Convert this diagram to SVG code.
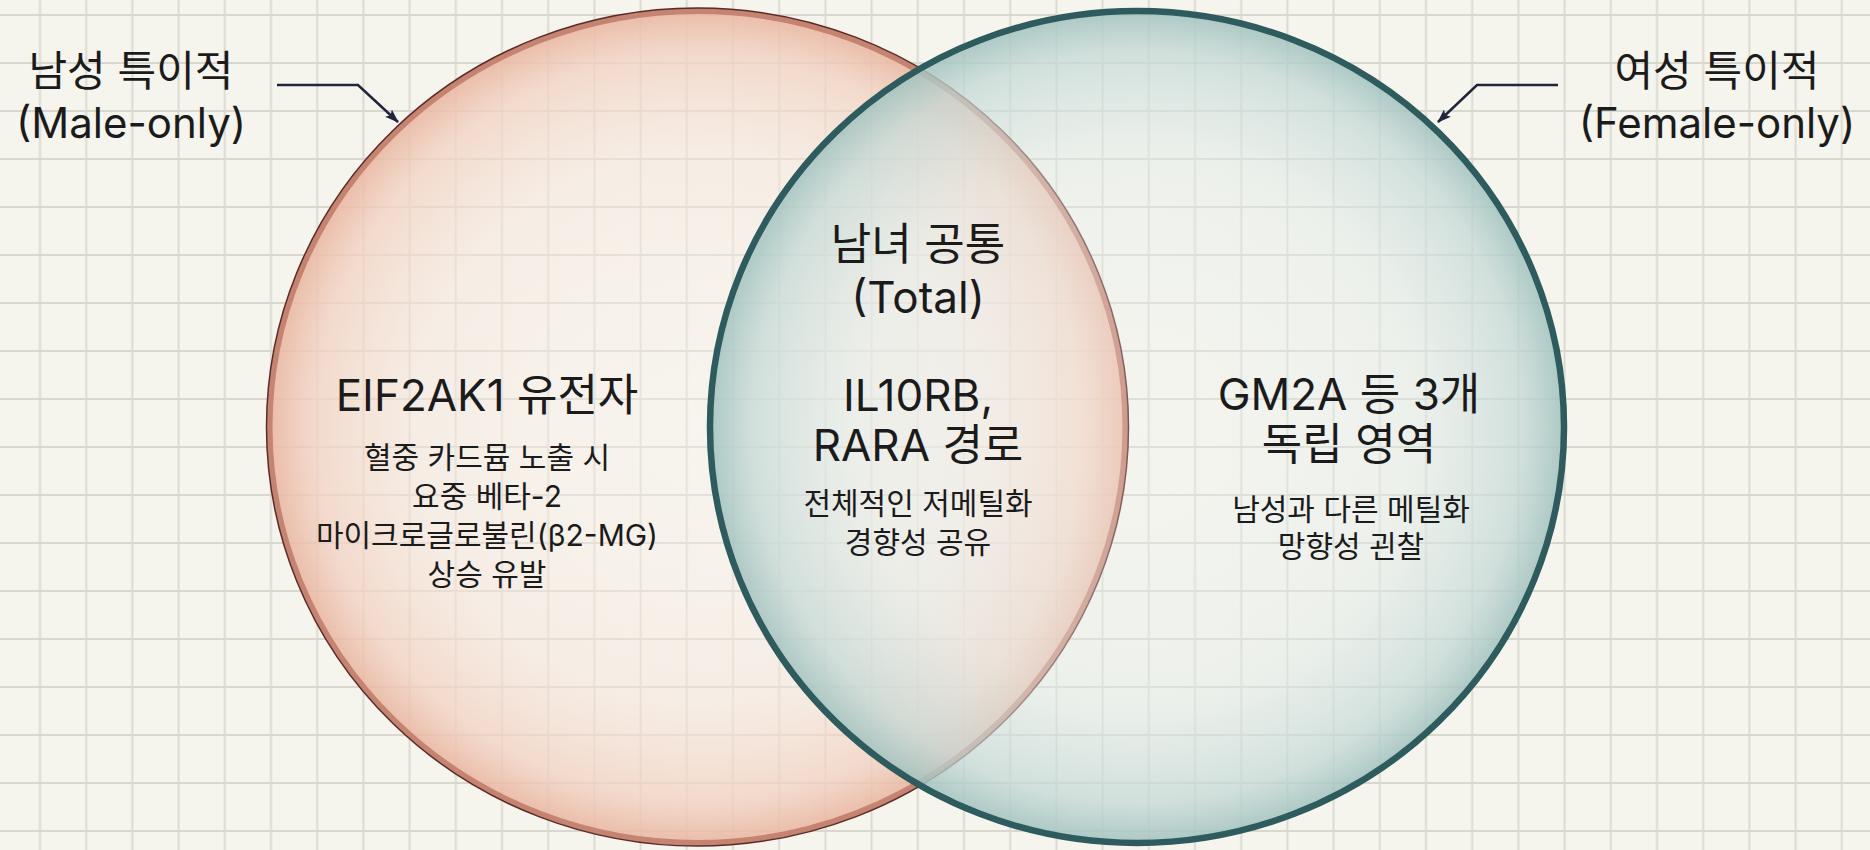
<svg xmlns="http://www.w3.org/2000/svg" width="1870" height="850" viewBox="0 0 1870 850">
<style>
  .lbl { font-family: Inter, "Noto Sans", "Noto Sans CJK KR", sans-serif; fill: #1b1b1b; text-anchor: middle; }
  .big { font-size: 42px; }
  .head { font-size: 44px; }
  .sub { font-size: 30px; }
  .arrow { fill: none; stroke: #20243d; stroke-width: 2.5; marker-end: url(#ah); }
</style>
<defs>
  <pattern id="grid" x="16.9" y="-9" width="46.2" height="48" patternUnits="userSpaceOnUse">
    <path d="M23.1 0 V48 M0 24 H46.2" stroke="#d8d8cf" stroke-width="1.8" fill="none"/>
  </pattern>
  <radialGradient id="gMale" cx="0.5" cy="0.5" r="0.5">
    <stop offset="0" stop-color="#fbf6f0" stop-opacity="0.3"/>
    <stop offset="0.65" stop-color="#f7e7dd" stop-opacity="0.5"/>
    <stop offset="0.9" stop-color="#f2d0c0" stop-opacity="0.75"/>
    <stop offset="1" stop-color="#e9b6a1" stop-opacity="0.9"/>
  </radialGradient>
  <radialGradient id="gFemale" cx="0.5" cy="0.5" r="0.5">
    <stop offset="0" stop-color="#f3f6f3" stop-opacity="0.2"/>
    <stop offset="0.65" stop-color="#e2ecea" stop-opacity="0.45"/>
    <stop offset="0.9" stop-color="#c3d8d5" stop-opacity="0.72"/>
    <stop offset="1" stop-color="#a2c2bf" stop-opacity="0.88"/>
  </radialGradient>
  <marker id="ah" viewBox="0 0 14 10" refX="13" refY="5" markerWidth="14" markerHeight="10" markerUnits="userSpaceOnUse" orient="auto">
    <path d="M0 0 L14 5 L0 10 L3 5 Z" fill="#20243d"/>
  </marker>
</defs>
<rect width="1870" height="850" fill="#f5f4ed"/>
<rect width="1870" height="850" fill="url(#grid)"/>

<g id="male-set">
  <ellipse cx="697.5" cy="427" rx="428" ry="416" fill="url(#gMale)" stroke="#c58371" stroke-width="6"/>
  <ellipse cx="697.5" cy="427" rx="431" ry="419" fill="none" stroke="#5b2b28" stroke-width="1.5"/>
</g>
<g id="female-set">
  <ellipse cx="1137" cy="427" rx="427" ry="416" fill="url(#gFemale)" stroke="#2e5b5e" stroke-width="6.5"/>
</g>

<g id="connectors">
  <path class="arrow" d="M277 85 H358 L398 122"/>
  <path class="arrow" d="M1558 85 H1477 L1438 122"/>
</g>

<g id="label-male">
  <text class="lbl big" x="131" y="86">남성 특이적</text>
  <text class="lbl big" x="131" y="138">(Male-only)</text>
</g>
<g id="label-female">
  <text class="lbl big" x="1717" y="86">여성 특이적</text>
  <text class="lbl big" x="1717" y="138">(Female-only)</text>
</g>

<g id="male-only">
  <text class="lbl head" x="487" y="411">EIF2AK1 유전자</text>
  <text class="lbl sub" x="487" y="468">혈중 카드뮴 노출 시</text>
  <text class="lbl sub" x="487" y="507">요중 베타-2</text>
  <text class="lbl sub" x="487" y="546">마이크로글로불린(β2-MG)</text>
  <text class="lbl sub" x="487" y="585">상승 유발</text>
</g>
<g id="common">
  <text class="lbl head" x="918" y="260">남녀 공통</text>
  <text class="lbl head" x="918" y="313">(Total)</text>
  <text class="lbl head" x="918" y="411">IL10RB,</text>
  <text class="lbl head" x="918" y="461">RARA 경로</text>
  <text class="lbl sub" x="918" y="514">전체적인 저메틸화</text>
  <text class="lbl sub" x="918" y="553">경향성 공유</text>
</g>
<g id="female-only">
  <text class="lbl head" x="1349" y="410">GM2A 등 3개</text>
  <text class="lbl head" x="1349" y="460">독립 영역</text>
  <text class="lbl sub" x="1351" y="520">남성과 다른 메틸화</text>
  <text class="lbl sub" x="1351" y="557">망향성 괸찰</text>
</g>
</svg>
